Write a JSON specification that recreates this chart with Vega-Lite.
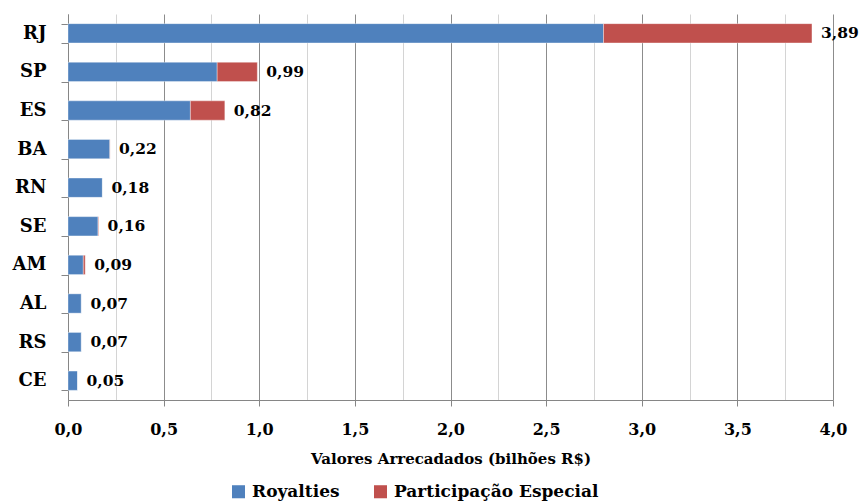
{
  "$schema": "https://vega.github.io/schema/vega-lite/v6.json",
  "autosize": {"type": "none"},
  "width": 765,
  "height": 386,
  "padding": {"left": 68, "top": 14, "right": 28, "bottom": 104},
  "background": "#ffffff",
  "config": {
    "locale": {"number": {"decimal": ",", "thousands": ".", "grouping": [3], "currency": ["R$", ""]}},
    "view": {"stroke": null},
    "font": "DejaVu Serif"
  },
  "data": {
    "values": [
      {"estado": "RJ", "serie": "Royalties", "valor": 2.80},
      {"estado": "RJ", "serie": "Participação Especial", "valor": 1.09},
      {"estado": "SP", "serie": "Royalties", "valor": 0.78},
      {"estado": "SP", "serie": "Participação Especial", "valor": 0.21},
      {"estado": "ES", "serie": "Royalties", "valor": 0.64},
      {"estado": "ES", "serie": "Participação Especial", "valor": 0.18},
      {"estado": "BA", "serie": "Royalties", "valor": 0.219},
      {"estado": "BA", "serie": "Participação Especial", "valor": 0.001},
      {"estado": "RN", "serie": "Royalties", "valor": 0.18},
      {"estado": "RN", "serie": "Participação Especial", "valor": 0.0},
      {"estado": "SE", "serie": "Royalties", "valor": 0.157},
      {"estado": "SE", "serie": "Participação Especial", "valor": 0.003},
      {"estado": "AM", "serie": "Royalties", "valor": 0.08},
      {"estado": "AM", "serie": "Participação Especial", "valor": 0.01},
      {"estado": "AL", "serie": "Royalties", "valor": 0.07},
      {"estado": "AL", "serie": "Participação Especial", "valor": 0.0},
      {"estado": "RS", "serie": "Royalties", "valor": 0.07},
      {"estado": "RS", "serie": "Participação Especial", "valor": 0.0},
      {"estado": "CE", "serie": "Royalties", "valor": 0.05},
      {"estado": "CE", "serie": "Participação Especial", "valor": 0.0}
    ]
  },
  "encoding": {
    "y": {
      "field": "estado",
      "type": "nominal",
      "sort": ["RJ", "SP", "ES", "BA", "RN", "SE", "AM", "AL", "RS", "CE"],
      "scale": {"paddingInner": 0.5, "paddingOuter": 0.25},
      "axis": {
        "title": null,
        "tickBand": "extent",
        "domainColor": "#868686",
        "tickColor": "#868686",
        "tickSize": 7,
        "labelPadding": 15,
        "labelFont": "DejaVu Serif",
        "labelFontWeight": "bold",
        "labelFontSize": 18,
        "labelColor": "#000000",
        "grid": false
      }
    }
  },
  "layer": [
    {
      "mark": {"type": "bar", "stroke": "#ffffff", "strokeWidth": 0.6, "strokeOpacity": 0.6},
      "encoding": {
        "x": {
          "field": "valor",
          "type": "quantitative",
          "stack": "zero",
          "scale": {"domain": [0, 4], "nice": false},
          "axis": {
            "title": "Valores Arrecadados (bilhões R$)",
            "titleFont": "DejaVu Serif",
            "titleFontWeight": "bold",
            "titleFontSize": 15,
            "titleColor": "#000000",
            "titlePadding": 14,
            "values": [0, 0.25, 0.5, 0.75, 1, 1.25, 1.5, 1.75, 2, 2.25, 2.5, 2.75, 3, 3.25, 3.5, 3.75, 4],
            "format": ".1f",
            "labelExpr": "datum.value % 0.5 == 0 ? datum.label : ''",
            "labelFont": "DejaVu Serif",
            "labelFontWeight": "bold",
            "labelFontSize": 16,
            "labelColor": "#000000",
            "labelPadding": 15,
            "labelFlush": false,
            "labelOverlap": false,
            "domainColor": "#868686",
            "tickSize": 6,
            "tickColor": {"condition": {"test": "datum.value % 0.5 == 0", "value": "#868686"}, "value": "transparent"},
            "grid": true,
            "gridColor": {"condition": {"test": "datum.value % 0.5 == 0", "value": "#8c8c8c"}, "value": "#d4d4d4"},
            "gridWidth": 1
          }
        },
        "color": {
          "field": "serie",
          "type": "nominal",
          "scale": {"domain": ["Royalties", "Participação Especial"], "range": ["#4F81BD", "#C0504D"]},
          "legend": {
            "title": null,
            "orient": "none",
            "direction": "horizontal",
            "legendX": 162,
            "legendY": 469,
            "symbolType": "square",
            "symbolSize": 170,
            "symbolStrokeWidth": 0,
            "labelFont": "DejaVu Serif",
            "labelFontWeight": "bold",
            "labelFontSize": 17,
            "labelColor": "#000000",
            "labelOffset": 5,
            "columnPadding": 32,
            "labelLimit": 400
          }
        },
        "order": {"field": "serie", "sort": "descending"}
      }
    },
    {
      "transform": [{"aggregate": [{"op": "sum", "field": "valor", "as": "total"}], "groupby": ["estado"]}],
      "mark": {"type": "text", "align": "left", "baseline": "middle", "dx": 9, "font": "DejaVu Serif", "fontWeight": "bold", "fontSize": 15.5, "color": "#000000"},
      "encoding": {
        "x": {"field": "total", "type": "quantitative"},
        "text": {"field": "total", "type": "quantitative", "format": ".2f"}
      }
    }
  ]
}
